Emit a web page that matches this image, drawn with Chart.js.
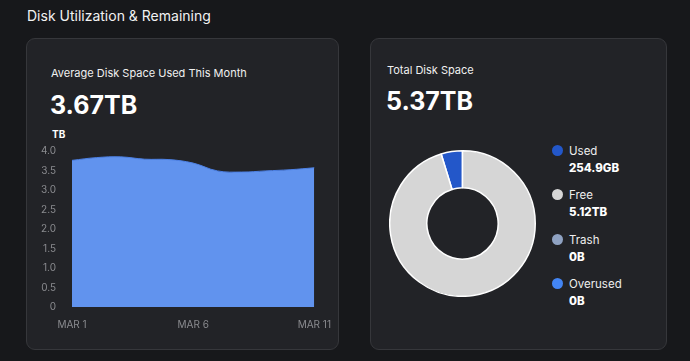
<!DOCTYPE html>
<html>
<head>
<meta charset="utf-8">
<script src="https://cdn.jsdelivr.net/npm/chart.js@4"></script>
<style>
  body { margin: 0; background: #17181b; width: 690px; height: 361px; overflow: hidden; font-family: Inter, "Noto Sans", sans-serif; color: #fff; position: relative; }
  .titulo { position: absolute; left: 27px; top: 7px; font-size: 14px; color: #f2f2f2; }
  .card { position: absolute; top: 38px; height: 312px; background: #222327; border: 1px solid #36373b; border-radius: 9px; box-sizing: border-box; }
  .sub { position: absolute; font-size: 11px; color: #f0f0f0; }
  .big { position: absolute; font-size: 25px; font-weight: 700; color: #fff; }
  .abs { position: absolute; }
  .leg { position: absolute; left: 552px; font-size: 11.5px; }
  .leg .dot { position: absolute; left: 0; top: 1px; width: 11px; height: 11px; border-radius: 50%; }
  .leg .nome { position: absolute; left: 17px; top: 0; color: #eee; white-space: nowrap; }
  .leg .valor { position: absolute; left: 17px; top: 17px; font-weight: 800; white-space: nowrap; }
</style>
</head>
<body>
<div class="titulo">Disk Utilization &amp; Remaining</div>

<div class="card" style="left:26px; width:313px;"></div>
<div class="card" style="left:370px; width:297px;"></div>

<div class="sub" style="left:51px; top:66px;">Average Disk Space Used This Month</div>
<div class="big" style="left:50px; top:90px;">3.67TB</div>
<div class="abs" style="left:52px; top:128px; font-size:10px; font-weight:700;">TB</div>
<div class="abs" style="left:40px; top:137px; width:295px; height:198px;"><canvas id="graficoLinha"></canvas></div>

<div class="sub" style="left:387px; top:63px;">Total Disk Space</div>
<div class="big" style="left:386px; top:86px;">5.37TB</div>
<div class="abs" style="left:389px; top:150px; width:147px; height:147px;"><canvas id="graficoRosca"></canvas></div>
<div id="legenda"></div>

<script>
// dados de uso diario (TB)
var dias = ["MAR 1", "MAR 2", "MAR 3", "MAR 4", "MAR 5", "MAR 6", "MAR 7", "MAR 8", "MAR 9", "MAR 10", "MAR 11"];
var usoDiario = [3.76, 3.83, 3.85, 3.79, 3.78, 3.69, 3.49, 3.46, 3.49, 3.52, 3.57];
var ticksY = [0, 0.5, 1.0, 1.5, 2.0, 2.5, 3.0, 3.5, 4.0];

// espaco total
var categorias = ["Used", "Free", "Trash", "Overused"];
var valoresTB = [0.2549, 5.12, 0, 0];
var rotulosValor = ["254.9GB", "5.12TB", "0B", "0B"];
var cores = ["#2357c9", "#d6d6d6", "#8fa2c2", "#4385f4"];

Chart.defaults.font.family = "Inter";

var ctx = document.getElementById("graficoLinha");
var myChart = new Chart(ctx, {
  type: "line",
  data: {
    labels: dias,
    datasets: [
      {
        data: usoDiario,
        fill: "origin",
        backgroundColor: "#6193ee",
        borderColor: "#4d80e4",
        borderWidth: 1,
        tension: 0.4,
        pointRadius: 0,
      },
    ],
  },
  options: {
    responsive: true,
    maintainAspectRatio: false,
    animation: false,
    layout: { padding: { top: 4, right: 0, bottom: 0, left: 0 } },
    plugins: { legend: { display: false }, tooltip: { enabled: false } },
    scales: {
      x: {
        grid: { display: false },
        border: { display: false },
        ticks: {
          color: "#8a8b8f",
          font: { size: 10 },
          autoSkip: false,
          maxRotation: 0,
          padding: 4,
          callback: function (v, i) {
            return i % 5 == 0 ? dias[i] : "";
          },
        },
      },
      y: {
        min: 0,
        max: 4,
        grid: { display: false },
        border: { display: false },
        afterFit: function (axis) {
          axis.width = 32;
        },
        afterBuildTicks: function (axis) {
          axis.ticks = ticksY.map(function (v) { return { value: v }; });
        },
        ticks: {
          color: "#8a8b8f",
          font: { size: 10 },
          padding: 8,
          callback: function (v) {
            return v == 0 ? "0" : v.toFixed(1);
          },
        },
      },
    },
  },
});

var total = valoresTB.reduce(function (a, b) { return a + b; }, 0);
var rosca = new Chart(document.getElementById("graficoRosca"), {
  type: "doughnut",
  data: {
    labels: categorias,
    datasets: [
      {
        data: valoresTB,
        backgroundColor: cores,
        borderColor: "#ffffff",
        borderWidth: 1.5,
      },
    ],
  },
  options: {
    responsive: true,
    maintainAspectRatio: false,
    animation: false,
    cutout: "49%",
    rotation: -(valoresTB[0] / total) * 360,
    plugins: { legend: { display: false }, tooltip: { enabled: false } },
  },
});

var legenda = document.getElementById("legenda");
for (var i = 0; i < categorias.length; i++) {
  var item = document.createElement("div");
  item.className = "leg";
  item.style.top = (144 + i * 44.3) + "px";
  item.innerHTML =
    '<div class="dot" style="background:' + cores[i] + '"></div>' +
    '<div class="nome">' + categorias[i] + '</div>' +
    '<div class="valor">' + rotulosValor[i] + '</div>';
  legenda.appendChild(item);
}
</script>
</body>
</html>
